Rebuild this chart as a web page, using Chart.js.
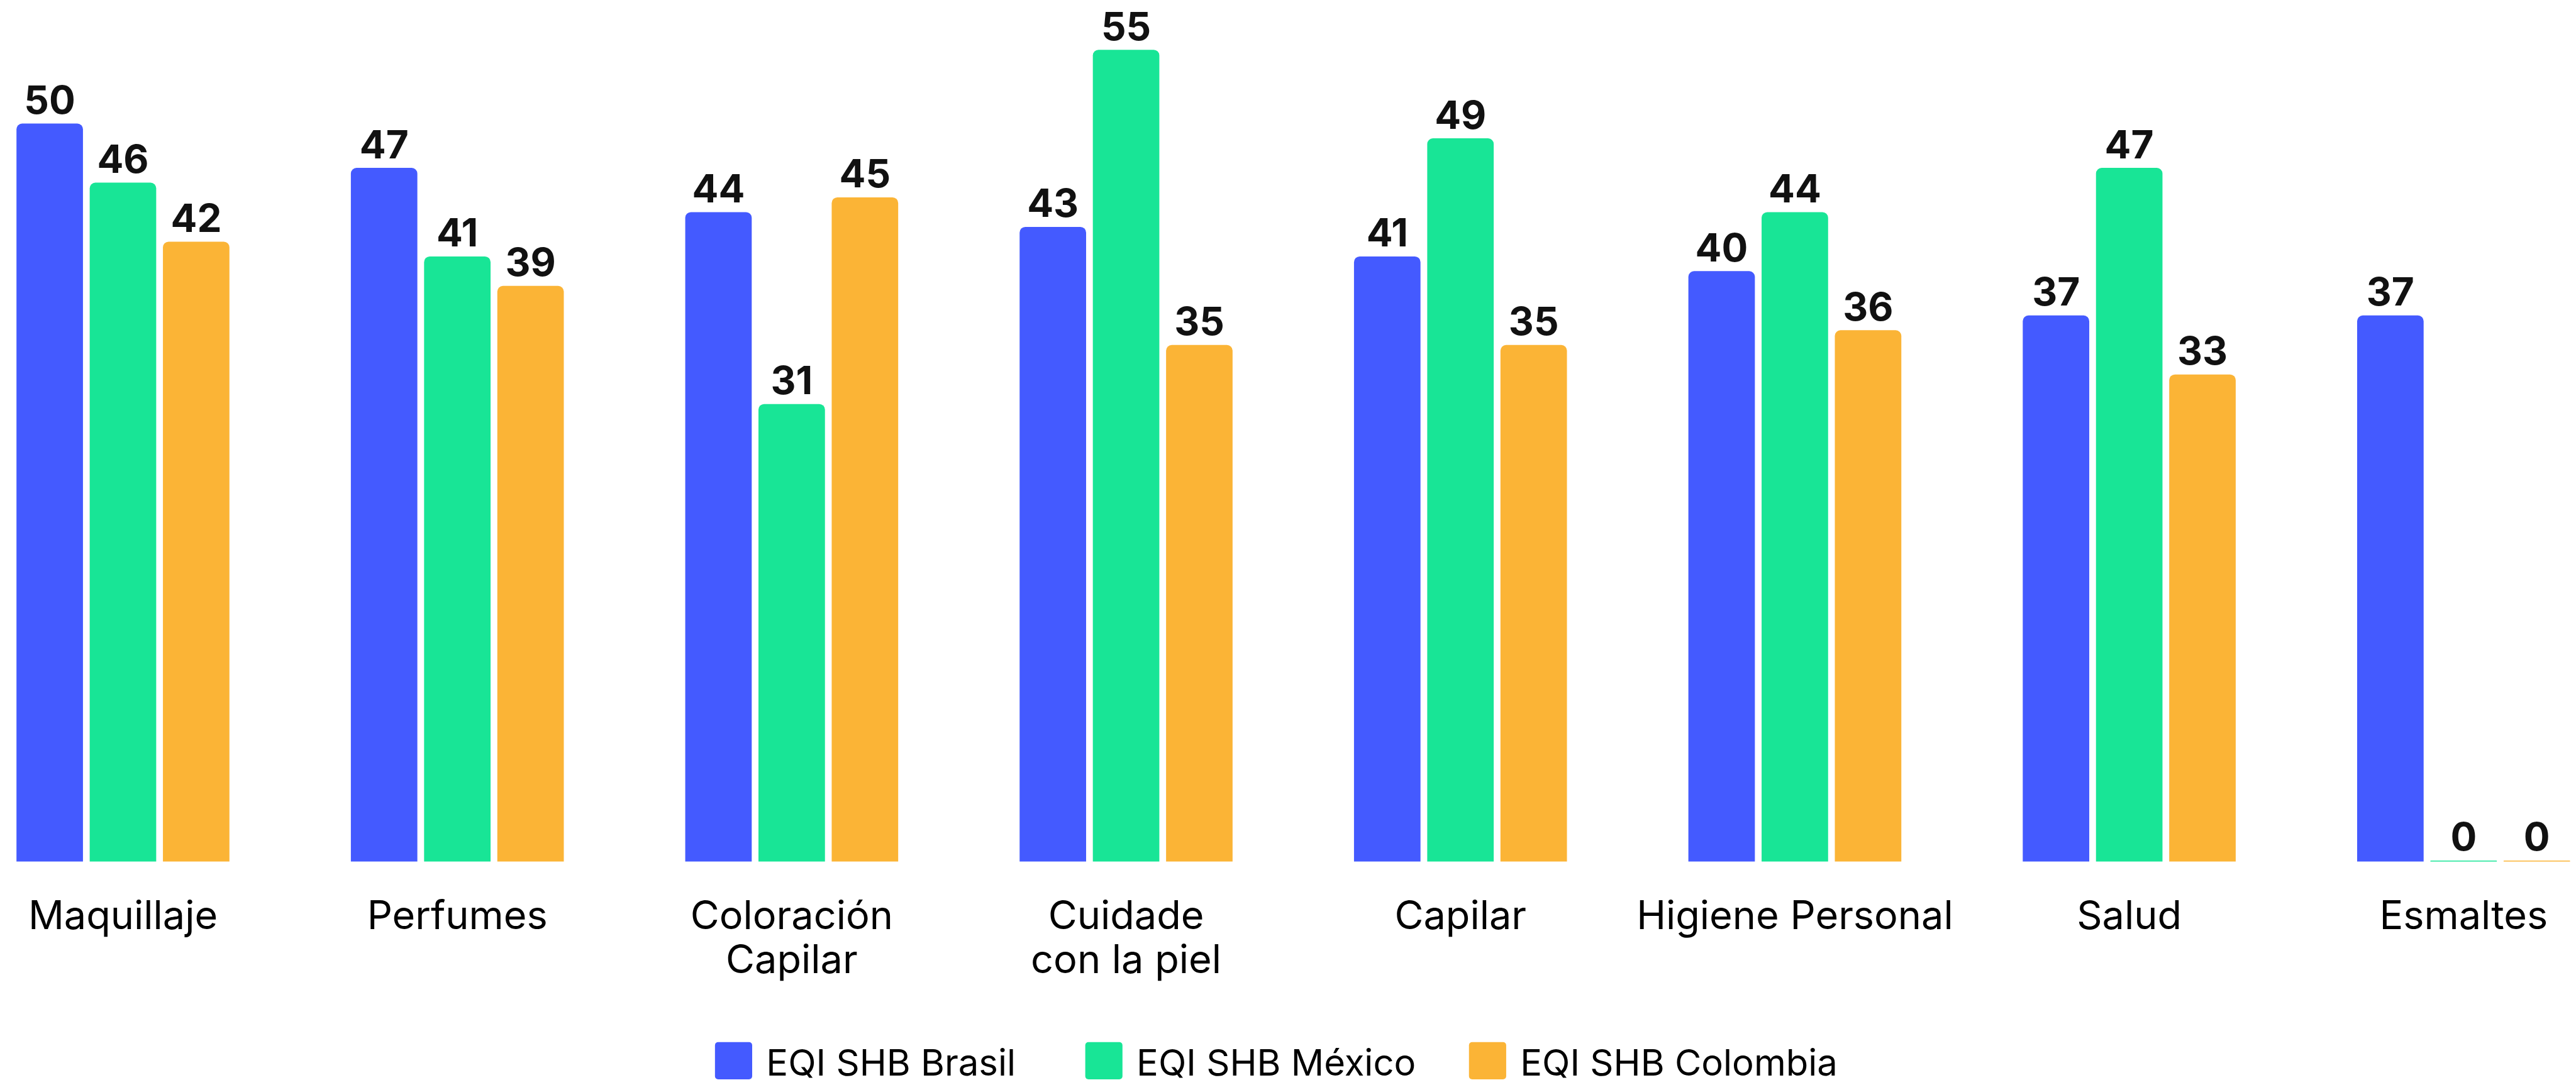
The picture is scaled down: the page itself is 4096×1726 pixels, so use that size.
<!DOCTYPE html>
<html>
<head>
<meta charset="utf-8">
<script src="https://cdn.jsdelivr.net/npm/chart.js@4.4.1/dist/chart.umd.min.js"></script>
<style>
  html, body { margin: 0; padding: 0; background: #fff; }
  #wrap { width: 4096px; height: 1726px; }
</style>
</head>
<body>
<div id="wrap"><canvas id="myChart" width="4096" height="1726"></canvas></div>
<script>
// categories and series
const categories = ['Maquillaje', 'Perfumes', ['Coloración', 'Capilar'], ['Cuidade', 'con la piel'], 'Capilar', 'Higiene Personal', 'Salud', 'Esmaltes'];
const seriesNames = ['EQI SHB Brasil', 'EQI SHB México', 'EQI SHB Colombia'];
const brasil = [50, 47, 44, 43, 41, 40, 37, 37];
const mexico = [46, 41, 31, 55, 49, 44, 47, 0];
const colombia = [42, 39, 45, 35, 35, 36, 33, 0];
const colors = ['#445AFF', '#18E596', '#FBB436'];

const S = 0.97; // scale against the reference
const FONT = 'Inter';

// value labels above the bars
const valueLabels = {
  id: 'valueLabels',
  afterDatasetsDraw(chart) {
    const ctx = chart.ctx;
    ctx.save();
    ctx.font = '700 ' + Math.round(64 * S) + 'px ' + FONT;
    ctx.fillStyle = '#111111';
    ctx.textAlign = 'center';
    ctx.textBaseline = 'alphabetic';
    chart.data.datasets.forEach((ds, i) => {
      const meta = chart.getDatasetMeta(i);
      meta.data.forEach((bar, j) => {
        ctx.fillText(ds.data[j], bar.x, bar.y - 16 * S);
      });
    });
    ctx.restore();
  }
};

// legend at the bottom (box left edges as in the reference)
const legendX = [1172, 1779, 2408];
const bottomLegend = {
  id: 'bottomLegend',
  afterDraw(chart) {
    const ctx = chart.ctx;
    const box = 61 * S, gap = 23 * S;
    ctx.save();
    ctx.font = Math.round(60 * S) + 'px ' + FONT;
    const top = 1709 * S;
    chart.data.datasets.forEach((ds, i) => {
      const x = legendX[i] * S;
      ctx.fillStyle = ds.backgroundColor;
      ctx.beginPath();
      ctx.roundRect(x, top, box, box, 5);
      ctx.fill();
      ctx.fillStyle = '#000';
      ctx.textAlign = 'left';
      ctx.textBaseline = 'alphabetic';
      ctx.fillText(ds.label, x + box + gap, 1764 * S);
    });
    ctx.restore();
  }
};

const ctx = document.getElementById('myChart').getContext('2d');
const chart = new Chart(ctx, {
  type: 'bar',
  data: {
    labels: categories,
    datasets: [brasil, mexico, colombia].map((d, i) => ({
      label: seriesNames[i],
      data: d,
      backgroundColor: colors[i],
      borderRadius: 9,
      borderSkipped: 'start',
      minBarLength: 1.5,
      barPercentage: 0.908,
      categoryPercentage: 0.657,
      clip: false
    }))
  },
  options: {
    responsive: false,
    devicePixelRatio: 1,
    animation: false,
    layout: { padding: { left: 195.5, right: 178.7, top: 8.8, bottom: 108 } },
    plugins: {
      legend: { display: false },
      tooltip: { enabled: false }
    },
    scales: {
      x: {
        offset: false,
        grid: { display: false, drawTicks: false },
        border: { display: false },
        ticks: {
          color: '#000',
          font: { family: FONT, size: 63, lineHeight: 69.8 / 63 },
          padding: 54,
          maxRotation: 0,
          autoSkip: false
        },
        // side padding comes from layout.padding only
        afterFit: function(scale) {
          scale.paddingLeft = 0;
          scale.paddingRight = 0;
        }
      },
      y: {
        display: false,
        min: 0,
        max: 58
      }
    }
  },
  plugins: [valueLabels, bottomLegend]
});
</script>
</body>
</html>
